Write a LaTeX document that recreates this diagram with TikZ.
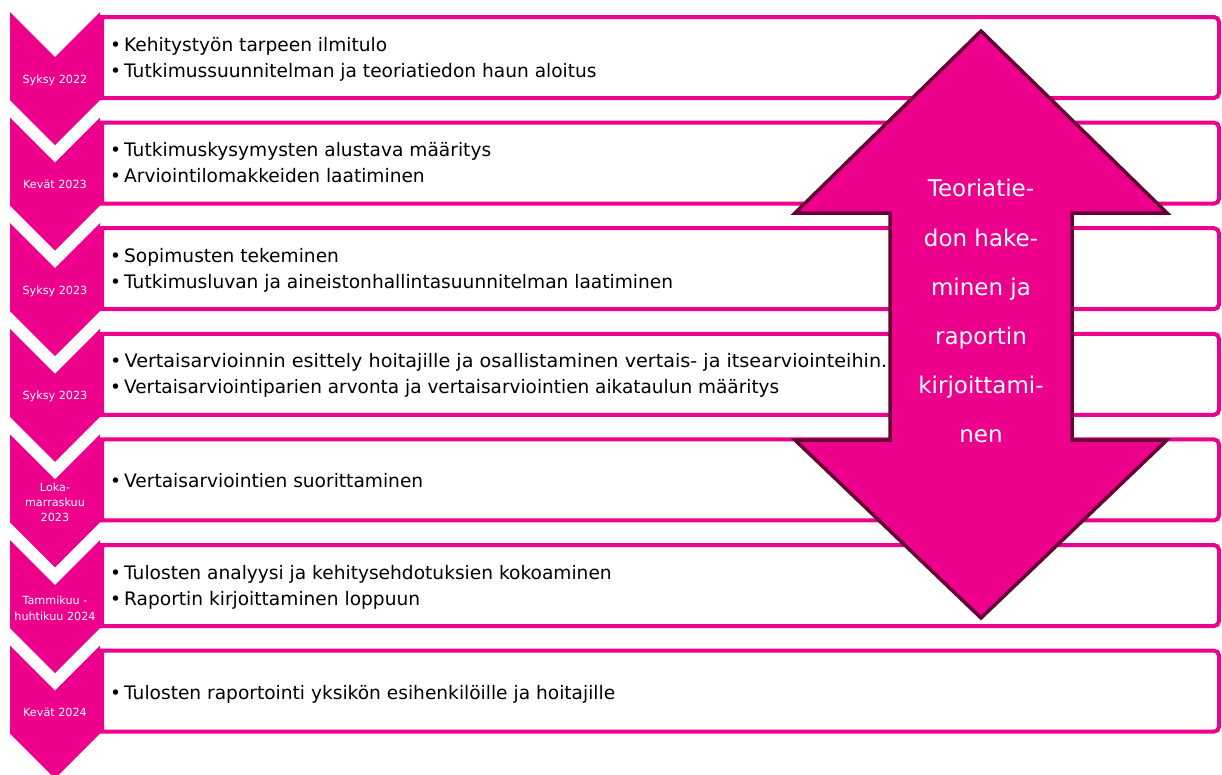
\documentclass[tikz,border=0pt]{standalone}
\usepackage{fontspec}
\setmainfont{DejaVu Sans}
\usepackage{graphicx}
\definecolor{pinkM}{RGB}{236,0,140}
\definecolor{darkM}{RGB}{102,0,51}
\tikzset{
  boxline/.style={draw=pinkM, line width=4pt, fill=white},
  chev/.style={fill=pinkM, draw=none},
  item/.style={anchor=base west, inner sep=0pt, text=black, font=\fontsize{18.6}{27}\selectfont},
  lab/.style={inner sep=0pt, text=white, align=center, font=\fontsize{11.2}{15}\selectfont},
  bigarrow/.style={fill=pinkM, draw=darkM, line width=3.5pt, line join=miter},
  arrowtext/.style={inner sep=0pt, text=white, align=center, font=\fontsize{23}{49.2}\selectfont}
}
\newcommand{\bul}{•\hspace{3pt}}
\newcommand{\stagerow}[1]{%
  \draw[boxline] (102,#1) -- (1214,#1) arc[start angle=-90,end angle=0,radius=5]
     -- (1219,{#1+76}) arc[start angle=0,end angle=90,radius=5] -- (102,{#1+81}) -- cycle;
  \fill[chev] (10,{#1-5}) -- (55,{#1+40}) -- (100,{#1-5}) -- (100,{#1+83})
     -- (55,{#1+128}) -- (10,{#1+83}) -- cycle;
}
\begin{document}
\begin{tikzpicture}[x=1pt,y=-1pt]
\useasboundingbox (0,0) rectangle (1222,774);
\fill[white] (0,0) rectangle (1222,774);

\stagerow{17}
\stagerow{122.6}
\stagerow{228.2}
\stagerow{333.8}
\stagerow{439.4}
\stagerow{545}
\stagerow{650.6}

% period labels
\node[lab, anchor=base] (l1) at (55,83) {Syksy 2022};
\node[lab, anchor=base] (l2) at (55,188.6) {Kevät 2023};
\node[lab, anchor=base] (l3) at (55,294.2) {Syksy 2023};
\node[lab, anchor=base] (l4) at (55,399.8) {Syksy 2023};
\node[lab] (l5) at (55,502.75) {Loka-\\marraskuu\\2023};
\node[lab, font=\fontsize{11.2}{16}\selectfont] (l6) at (55,608.75) {Tammikuu -\\huhtikuu 2024};
\node[lab, anchor=base] (l7) at (55,716.6) {Kevät 2024};

% stage items
\node[item] (t11) at (110,51) {\bul Kehitystyön tarpeen ilmitulo};
\node[item] (t12) at (110,77) {\bul Tutkimussuunnitelman ja teoriatiedon haun aloitus};
\node[item] (t21) at (110,156.6) {\bul Tutkimuskysymysten alustava määritys};
\node[item] (t22) at (110,182.6) {\bul Arviointilomakkeiden laatiminen};
\node[item] (t31) at (110,262.2) {\bul Sopimusten tekeminen};
\node[item] (t32) at (110,288.2) {\bul Tutkimusluvan ja aineistonhallintasuunnitelman laatiminen};
\node[item] (t41) at (110,367.8) {\resizebox{777pt}{\height}{\bul Vertaisarvioinnin esittely hoitajille ja osallistaminen vertais- ja itsearviointeihin.}};
\node[item] (t42) at (110,393.8) {\resizebox{669pt}{\height}{\bul Vertaisarviointiparien arvonta ja vertaisarviointien aikataulun määritys}};
\node[item] (t51) at (110,487.4) {\bul Vertaisarviointien suorittaminen};
\node[item] (t61) at (110,579) {\bul Tulosten analyysi ja kehitysehdotuksien kokoaminen};
\node[item] (t62) at (110,605) {\bul Raportin kirjoittaminen loppuun};
\node[item] (t71) at (110,699) {\bul Tulosten raportointi yksikön esihenkilöille ja hoitajille};

% double arrow
\draw[bigarrow] (981,31) -- (1167,213) -- (1072,213) -- (1072,440) -- (1167,440)
   -- (981,618) -- (795,440) -- (890,440) -- (890,213) -- (795,213) -- cycle;
\node[arrowtext] (at1) at (981,311.25) {Teoriatie-\\don hake-\\minen ja\\raportin\\kirjoittami-\\nen};
\end{tikzpicture}
\end{document}
